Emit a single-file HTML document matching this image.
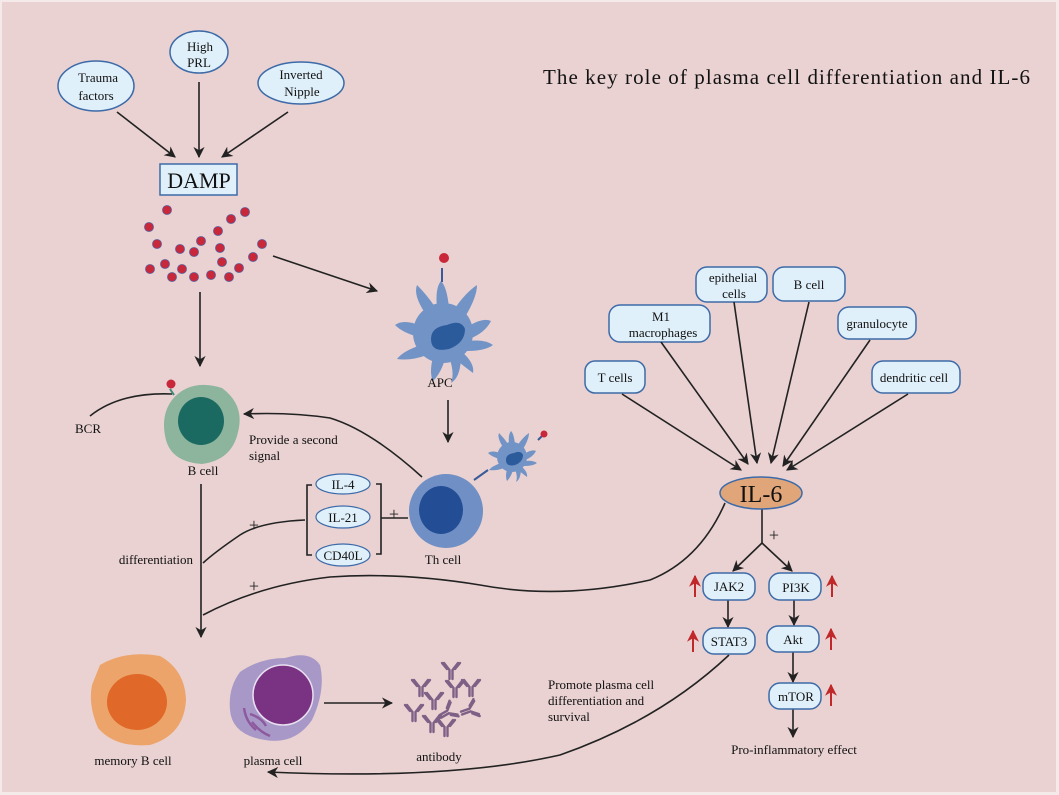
<!DOCTYPE html>
<html><head><meta charset="utf-8"><style>
html,body{margin:0;padding:0;background:#f3e6e6;}
svg{display:block;font-family:"Liberation Serif",serif;}
</style></head><body>
<svg width="1059" height="795" viewBox="0 0 1059 795" xmlns="http://www.w3.org/2000/svg">
<defs>
<marker id="ah" viewBox="0 0 10 10" refX="9" refY="5" markerWidth="7" markerHeight="7" orient="auto-start-reverse"><path d="M0,0 L10,5 L0,10 L3,5 z" fill="#222"/></marker>
<marker id="rh" viewBox="0 0 10 10" refX="9" refY="5" markerWidth="6" markerHeight="6" orient="auto"><path d="M0,0 L10,5 L0,10 L3,5 z" fill="#c0282a"/></marker>
<g id="ab" stroke="#7e5f86" stroke-width="2.4" fill="none" stroke-linecap="round">
<path d="M-1.5,9 V0 L-7,-7 M1.5,9 V0 L7,-7 M-4,-1 L-9,-7 M4,-1 L9,-7"/>
</g>
<g id="apc">
<g fill="#7293c6">
<ellipse cx="0" cy="0" rx="30" ry="30"/>
<path d="M-6,-25 Q-8,-45 -2,-52 Q4,-46 6,-25z"/>
<path d="M10,-22 Q22,-40 34,-48 Q34,-36 22,-16z"/>
<path d="M-18,-20 Q-30,-38 -26,-48 Q-16,-38 -8,-26z"/>
<path d="M-24,-8 Q-40,-14 -48,-8 Q-40,0 -24,4z"/>
<path d="M24,-6 Q40,-16 48,-12 Q42,0 26,6z"/>
<path d="M25,8 Q42,6 50,12 Q42,18 24,18z"/>
<path d="M-22,12 Q-40,18 -46,26 Q-32,28 -16,22z"/>
<path d="M-10,24 Q-14,40 -10,48 Q-2,40 2,26z"/>
<path d="M6,24 Q12,40 8,50 Q18,44 18,22z"/>
<path d="M18,18 Q32,30 30,40 Q22,34 12,26z"/>
</g>
<path d="M-12,6 Q-12,-6 4,-8 Q18,-14 22,-4 Q22,10 6,16 Q-12,20 -12,6z" fill="#2c5b9c"/>
</g>
</defs>
<rect x="0" y="0" width="1059" height="795" fill="#f4eaea"/>
<rect x="2" y="2" width="1054" height="790" fill="#e9d2d1"/>

<text x="543" y="84" font-size="21" textLength="487" fill="#111">The key role of plasma cell differentiation and IL-6</text>

<g fill="#e0f0fa" stroke="#3d6aa8" stroke-width="1.5">
<ellipse cx="96" cy="86" rx="38" ry="25"/>
<ellipse cx="199" cy="52" rx="29" ry="21"/>
<ellipse cx="301" cy="83" rx="43" ry="21"/>
</g>
<g font-size="13" text-anchor="middle" fill="#111">
<text x="98" y="82">Trauma</text><text x="96" y="100">factors</text>
<text x="200" y="51">High</text><text x="199" y="67">PRL</text>
<text x="301" y="79">Inverted</text><text x="302" y="96">Nipple</text>
</g>
<g stroke="#222" stroke-width="1.6" fill="none" marker-end="url(#ah)">
<line x1="117" y1="112" x2="175" y2="157"/>
<line x1="199" y1="82" x2="199" y2="157"/>
<line x1="288" y1="112" x2="222" y2="157"/>
<line x1="273" y1="256" x2="377" y2="291"/>
<line x1="200" y1="292" x2="200" y2="366"/>
<line x1="448" y1="400" x2="448" y2="442"/>
<line x1="201" y1="484" x2="201" y2="637"/>
<line x1="324" y1="703" x2="392" y2="703"/>
</g>
<rect x="160" y="164" width="77" height="31" fill="#e0f0fa" stroke="#3d6aa8" stroke-width="1.5"/>
<text x="199" y="188" font-size="22" text-anchor="middle" fill="#111">DAMP</text>

<g fill="#c8283a" stroke="#5a5a9a" stroke-width="0.8">
<circle cx="167" cy="210" r="4.5"/><circle cx="149" cy="227" r="4.5"/><circle cx="157" cy="244" r="4.5"/>
<circle cx="180" cy="249" r="4.5"/><circle cx="194" cy="252" r="4.5"/><circle cx="201" cy="241" r="4.5"/>
<circle cx="218" cy="231" r="4.5"/><circle cx="220" cy="248" r="4.5"/><circle cx="231" cy="219" r="4.5"/>
<circle cx="245" cy="212" r="4.5"/><circle cx="262" cy="244" r="4.5"/><circle cx="253" cy="257" r="4.5"/>
<circle cx="150" cy="269" r="4.5"/><circle cx="165" cy="264" r="4.5"/><circle cx="182" cy="269" r="4.5"/>
<circle cx="172" cy="277" r="4.5"/><circle cx="194" cy="277" r="4.5"/><circle cx="211" cy="275" r="4.5"/>
<circle cx="222" cy="262" r="4.5"/><circle cx="239" cy="268" r="4.5"/><circle cx="229" cy="277" r="4.5"/>
</g>

<g transform="translate(443,333) scale(1.0)"><use href="#apc"/></g>
<line x1="442" y1="282" x2="442" y2="268" stroke="#3a5a9a" stroke-width="2"/>
<circle cx="444" cy="258" r="5" fill="#c8283a"/>
<text x="440" y="387" font-size="13" text-anchor="middle" fill="#111">APC</text>

<path d="M172,400 Q190,378 222,388 Q245,405 238,432 Q232,460 202,464 Q172,462 166,440 Q160,416 172,400z" fill="#8db49d"/>
<ellipse cx="201" cy="421" rx="23" ry="24" fill="#1b6a62"/>
<circle cx="171" cy="384" r="4.5" fill="#c8283a"/>
<path d="M170,389 L174,395" stroke="#3a8a7a" stroke-width="2"/>
<path d="M90,416 Q120,392 172,394" stroke="#222" stroke-width="1.6" fill="none"/>
<text x="88" y="433" font-size="13" text-anchor="middle" fill="#111">BCR</text>
<text x="203" y="475" font-size="13" text-anchor="middle" fill="#111">B cell</text>
<path d="M422,477 Q370,430 330,418 Q290,412 244,414" stroke="#222" stroke-width="1.6" fill="none" marker-end="url(#ah)"/>
<text x="249" y="444" font-size="13" fill="#111">Provide a second</text>
<text x="249" y="460" font-size="13" fill="#111">signal</text>

<g stroke="#222" stroke-width="1.6" fill="none">
<path d="M312,485 H307 V555 H312"/>
<path d="M376,484 H381 V554 H376"/>
<line x1="381" y1="518" x2="408" y2="518"/>
<path d="M305,520 Q260,522 240,535 Q215,552 203,563"/>
<path d="M203,615 Q260,585 330,577 Q400,572 480,585 Q560,600 650,580 Q700,560 725,503"/>
<path d="M729,655 Q660,720 560,755 Q450,780 268,772" marker-end="url(#ah)"/>
</g>
<g font-size="18" fill="#222" text-anchor="middle"><text x="394" y="520">+</text><text x="254" y="531">+</text><text x="254" y="592">+</text><text x="774" y="541">+</text></g>
<g fill="#e0f0fa" stroke="#3d6aa8" stroke-width="1.2">
<ellipse cx="343" cy="484" rx="27" ry="10"/>
<ellipse cx="343" cy="517" rx="27" ry="11"/>
<ellipse cx="343" cy="555" rx="27" ry="11"/>
</g>
<g font-size="13" text-anchor="middle" fill="#111">
<text x="343" y="489">IL-4</text><text x="343" y="522">IL-21</text><text x="343" y="560">CD40L</text>
</g>
<text x="193" y="564" font-size="13" text-anchor="end" fill="#111">differentiation</text>

<circle cx="446" cy="511" r="37" fill="#6f8fc5"/>
<ellipse cx="441" cy="510" rx="22" ry="24" fill="#234e95"/>
<text x="443" y="564" font-size="13" text-anchor="middle" fill="#111">Th cell</text>
<g transform="translate(512,457) scale(0.5)"><use href="#apc"/></g>
<path d="M474,480 L488,470" stroke="#3a5a9a" stroke-width="2"/>
<line x1="538" y1="440" x2="543" y2="435" stroke="#3a5a9a" stroke-width="2"/>
<circle cx="544" cy="434" r="3.5" fill="#c8283a"/>

<g fill="#e0f0fa" stroke="#3d6aa8" stroke-width="1.5">
<rect x="585" y="361" width="60" height="32" rx="10"/>
<rect x="609" y="305" width="101" height="37" rx="11"/>
<rect x="696" y="267" width="71" height="35" rx="11"/>
<rect x="773" y="267" width="72" height="34" rx="11"/>
<rect x="838" y="307" width="78" height="32" rx="11"/>
<rect x="872" y="361" width="88" height="32" rx="11"/>
</g>
<g font-size="13" text-anchor="middle" fill="#111">
<text x="615" y="382">T cells</text>
<text x="661" y="321">M1</text><text x="663" y="337">macrophages</text>
<text x="733" y="282">epithelial</text><text x="734" y="298">cells</text>
<text x="809" y="289">B cell</text>
<text x="877" y="328">granulocyte</text>
<text x="914" y="382">dendritic cell</text>
</g>
<g stroke="#222" stroke-width="1.6" fill="none" marker-end="url(#ah)">
<line x1="622" y1="394" x2="741" y2="470"/>
<line x1="661" y1="342" x2="748" y2="464"/>
<line x1="734" y1="302" x2="757" y2="463"/>
<line x1="809" y1="302" x2="771" y2="463"/>
<line x1="870" y1="340" x2="783" y2="466"/>
<line x1="908" y1="394" x2="787" y2="470"/>
<line x1="762" y1="543" x2="733" y2="571"/>
<line x1="762" y1="543" x2="792" y2="571"/>
<line x1="728" y1="600" x2="728" y2="627"/>
<line x1="794" y1="600" x2="794" y2="625"/>
<line x1="793" y1="652" x2="793" y2="682"/>
<line x1="793" y1="709" x2="793" y2="737"/>
</g>
<line x1="762" y1="509" x2="762" y2="543" stroke="#222" stroke-width="1.6"/>
<ellipse cx="761" cy="493" rx="41" ry="16" fill="#e0a67a" stroke="#3d6aa8" stroke-width="1.5"/>
<text x="761" y="502" font-size="24" text-anchor="middle" fill="#111">IL-6</text>

<g fill="#e0f0fa" stroke="#3d6aa8" stroke-width="1.5">
<rect x="703" y="573" width="52" height="27" rx="11"/>
<rect x="769" y="573" width="52" height="27" rx="11"/>
<rect x="703" y="628" width="52" height="26" rx="11"/>
<rect x="767" y="626" width="52" height="26" rx="11"/>
<rect x="769" y="683" width="52" height="26" rx="11"/>
</g>
<g font-size="13" text-anchor="middle" fill="#111">
<text x="729" y="591">JAK2</text><text x="796" y="592">PI3K</text>
<text x="729" y="646">STAT3</text><text x="793" y="644">Akt</text><text x="796" y="701">mTOR</text>
<text x="794" y="754">Pro-inflammatory effect</text>
</g>
<g stroke="#c0282a" stroke-width="2" marker-end="url(#rh)">
<line x1="695" y1="597" x2="695" y2="576"/>
<line x1="832" y1="597" x2="832" y2="576"/>
<line x1="693" y1="652" x2="693" y2="631"/>
<line x1="831" y1="650" x2="831" y2="629"/>
<line x1="831" y1="706" x2="831" y2="685"/>
</g>
<g font-size="13" fill="#111">
<text x="548" y="689">Promote plasma cell</text>
<text x="548" y="705">differentiation and</text>
<text x="548" y="721">survival</text>
</g>

<path d="M100,665 Q125,650 160,656 Q185,670 186,700 Q184,735 150,745 Q115,748 98,728 Q88,705 92,685z" fill="#eda46b"/>
<ellipse cx="137" cy="702" rx="30" ry="28" fill="#e06828"/>
<text x="133" y="765" font-size="13" text-anchor="middle" fill="#111">memory B cell</text>
<path d="M240,672 Q260,658 285,658 Q310,650 320,665 Q326,690 312,720 Q295,745 265,740 Q232,735 230,710 Q228,688 240,672z" fill="#a898c8"/>
<circle cx="283" cy="695" r="30" fill="#7a3283" stroke="#e8e0f0" stroke-width="1.5"/>
<path d="M244,708 Q246,722 256,730 M250,714 Q262,718 266,726 M252,722 Q260,732 270,736" stroke="#8e5a9e" stroke-width="2.5" fill="none"/>
<text x="273" y="765" font-size="13" text-anchor="middle" fill="#111">plasma cell</text>
<g>
<use href="#ab" x="451" y="670"/>
<use href="#ab" x="421" y="687"/>
<use href="#ab" x="455" y="688"/>
<use href="#ab" x="471" y="687"/>
<use href="#ab" x="434" y="700"/>
<use href="#ab" x="414" y="712"/>
<use href="#ab" x="432" y="723"/>
<use href="#ab" x="446" y="727"/>
<use href="#ab" x="448" y="712" transform="rotate(60 448 712)"/>
<use href="#ab" x="470" y="710" transform="rotate(70 470 710)"/>
</g>
<text x="439" y="761" font-size="13" text-anchor="middle" fill="#111">antibody</text>
</svg>
</body></html>
